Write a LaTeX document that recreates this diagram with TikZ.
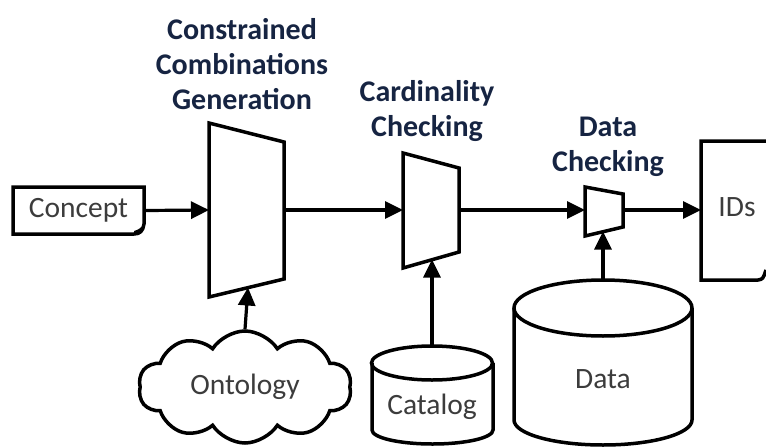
\documentclass[tikz,border=0pt]{standalone}
\usepackage{fontspec}
\setmainfont{Carlito}
\usetikzlibrary{arrows.meta,shapes.symbols}
\definecolor{titlenavy}{RGB}{22,36,66}
\definecolor{bodytext}{RGB}{60,60,60}
\begin{document}
\begin{tikzpicture}[x=1pt,y=-1pt,
  line width=3.5pt, line join=miter,
  flow/.style={-{Triangle[length=18pt,width=17pt]}, line width=3.2pt},
  title/.style={font=\fontsize{30}{35}\selectfont\bfseries, text=titlenavy, align=center},
  body/.style={font=\fontsize{29.5}{34}\selectfont, text=bodytext, inner sep=0pt},
  block/.style={draw, line width=3.5pt, fill=white},
]
\useasboundingbox (0,0) rectangle (766,447);

% titles over the three stages
\node[title] (t1) at (242,64) {Constrained\\Combinations\\Generation};
\node[title] (t2) at (427,111) {Cardinality\\Checking};
\node[title] (t3) at (608,147) {Data\\Checking};

% input document: Concept
\node[body, minimum width=131pt, minimum height=47pt] (concept) at (78.5,210.5) {Concept};
\draw (13,187) -- (144,187) -- (144,224) .. controls (143,231) and (140,234) .. (134,234) -- (13,234) -- cycle;
\fill (134,234) .. controls (140,233) and (143,230) .. (144,224) .. controls (141,228) and (138,230) .. (134,231) -- cycle;

% stage 1: constrained combinations generation
\draw[block] (209,123) -- (284,142) -- (284,279) -- (209,297) -- cycle;
\coordinate (g-in) at (209,210);
\coordinate (g-out) at (284,210);
\coordinate (g-bot) at (248,287.5);

% stage 2: cardinality checking
\draw[block] (403,153) -- (459,168) -- (459,252) -- (403,268) -- cycle;
\coordinate (c-in) at (403,210);
\coordinate (c-out) at (459,210);
\coordinate (c-bot) at (432,259.5);

% stage 3: data checking
\draw[block] (585,187) -- (623,194) -- (623,227) -- (585,236) -- cycle;
\coordinate (d-in) at (585,210);
\coordinate (d-out) at (623,210);
\coordinate (d-bot) at (603,231.5);

% output document: IDs
\node[body] (ids) at (737,207) {IDs};
\draw (766,141) -- (701,141) -- (701,280) -- (758,280) .. controls (763,279) .. (766,270);
\coordinate (ids-in) at (701,210);

% ontology cloud
\node[cloud, draw, cloud puffs=10, cloud puff arc=115, cloud ignores aspect,
      minimum width=213pt, minimum height=112pt, inner sep=0pt,
      font=\fontsize{29.5}{34}\selectfont, text=bodytext] (onto) at (245,387) {Ontology};

% catalog cylinder
\draw (372,363) -- (372,430) arc[start angle=180, end angle=0, x radius=60.5, y radius=14] -- (493,363);
\draw (432,363) ellipse[x radius=60.5, y radius=17];
\coordinate (cat-top) at (432,346);
\node[body] (catalog) at (432,407) {Catalog};

% data cylinder
\draw (514,308) -- (514,420) arc[start angle=180, end angle=0, x radius=89, y radius=25] -- (692,308);
\draw (603,308) ellipse[x radius=89, y radius=28];
\coordinate (data-top) at (603,280);
\node[body] (data) at (603,379) {Data};

% connectors
\draw[flow] (concept.east) -- (g-in);
\draw[flow] (g-out) -- (c-in);
\draw[flow] (c-out) -- (d-in);
\draw[flow] (d-out) -- (ids-in);
\draw[flow] (onto.north) -- (g-bot);
\draw[flow] (cat-top) -- (c-bot);
\draw[flow] (data-top) -- (d-bot);
\end{tikzpicture}
\end{document}
